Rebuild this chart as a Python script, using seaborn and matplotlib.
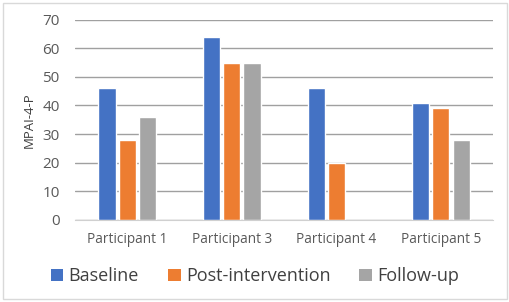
import matplotlib
matplotlib.use("Agg")
import matplotlib.pyplot as plt
import seaborn as sns
import pandas as pd
import numpy as np
from matplotlib.patches import Rectangle, Patch

participants = ["Participant 1", "Participant 3", "Participant 4", "Participant 5"]
baseline = [46, 64, 46, 41]
post_intervention = [28, 55, 20, 39]
follow_up = [36, 55, np.nan, 28]
series_names = ["Baseline", "Post-intervention", "Follow-up"]
colors = ["#4472C4", "#ED7D31", "#A5A5A5"]
yticks = [0, 10, 20, 30, 40, 50, 60, 70]

rows = []
for name, vals in zip(series_names, [baseline, post_intervention, follow_up]):
    for p, v in zip(participants, vals):
        rows.append({"Participant": p, "Series": name, "Value": v})
df = pd.DataFrame(rows)

sns.set_style("white")
plt.rcParams["font.family"] = ["Open Sans", "DejaVu Sans"]

fig = plt.figure(figsize=(5.10, 3.02), dpi=100)
ax = fig.add_axes([0.147, 0.272, 0.820, 0.663])

sns.barplot(data=df, x="Participant", y="Value", hue="Series",
            hue_order=series_names, palette=colors, width=0.58, gap=0.15,
            saturation=1, ax=ax, legend=False, errorbar=None)

ax.set_ylim(0, 70)
ax.set_yticks(yticks)
ax.set_xlim(-0.5, 3.5)
ax.yaxis.grid(True, color="#A0A0A0", linewidth=1.0)
ax.set_axisbelow(True)
for s in ["top", "right", "left"]:
    ax.spines[s].set_visible(False)
ax.spines["bottom"].set_color("#D0D0D0")
ax.tick_params(axis="y", labelsize=11, colors="#595959", length=0, pad=11)
ax.tick_params(axis="x", labelsize=9.8, colors="#595959", length=0, pad=9)
ax.set_xlabel("")
ax.set_ylabel("MPAI-4-P", fontsize=9.5, color="#404040", labelpad=5)

handles = [Patch(facecolor=c, edgecolor="none") for c in colors]
fig.legend(handles, series_names, loc="center", bbox_to_anchor=(0.50, 0.085),
           ncol=3, frameon=False, fontsize=13, handlelength=0.7, handleheight=0.7,
           handletextpad=0.3, columnspacing=1.6, labelcolor="#404040")

fig.patches.append(Rectangle((0.006, 0.01), 0.988, 0.98, transform=fig.transFigure,
                             fill=False, edgecolor="#D9D9D9", linewidth=1.0))

fig.savefig("out.png", dpi=100)
